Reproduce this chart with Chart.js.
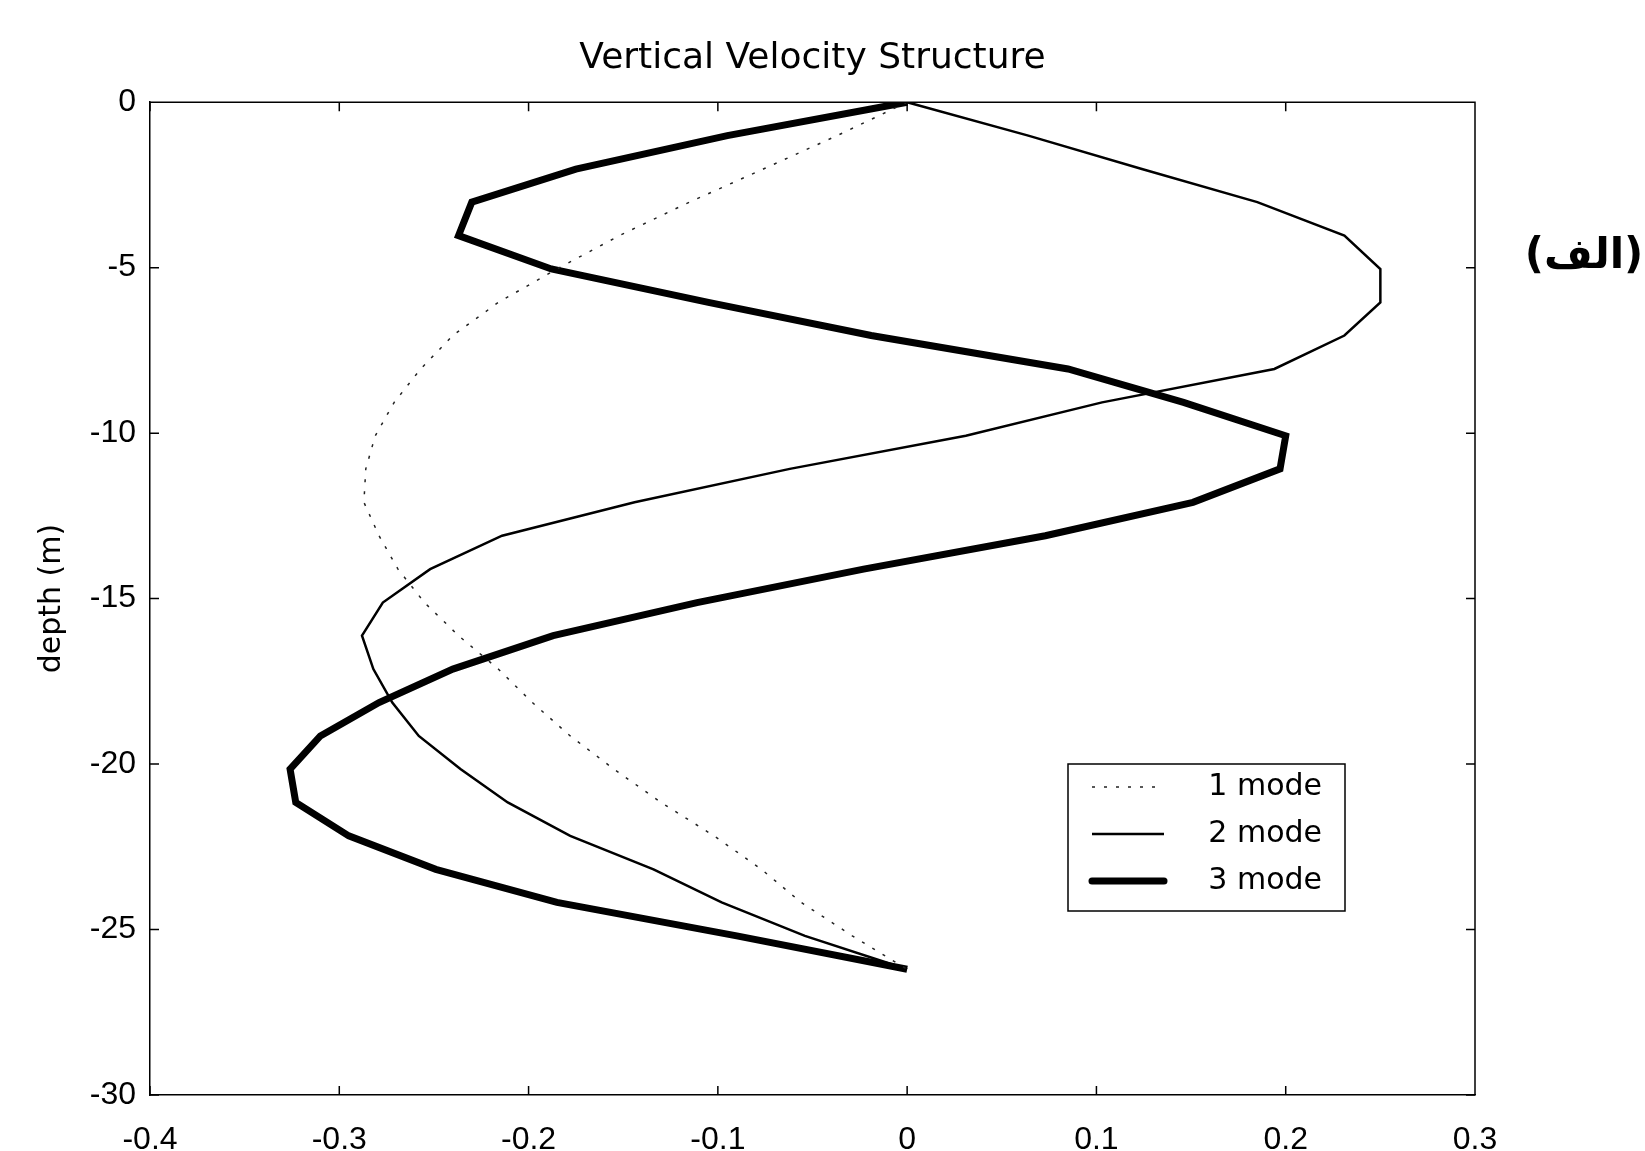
<!DOCTYPE html>
<html>
<head>
<meta charset="utf-8">
<script src="https://cdn.jsdelivr.net/npm/chart.js@4.4.1/dist/chart.umd.min.js"></script>
<style>
  html, body { margin: 0; padding: 0; background: #fff; }
</style>
</head>
<body>
<canvas id="velocityChart" width="1645" height="1151"></canvas>
<script>
// === Data ===
const depth = [0, -1.01, -2.02, -3.02, -4.03, -5.04, -6.05, -7.05, -8.06, -9.07, -10.08, -11.08, -12.09,
  -13.10, -14.11, -15.12, -16.12, -17.13, -18.14, -19.15, -20.15, -21.16, -22.17, -23.18, -24.18, -25.19, -26.2];
const mode1 = [0, -0.037, -0.076, -0.115, -0.152, -0.185, -0.216, -0.240, -0.257, -0.271, -0.281, -0.286, -0.287,
  -0.279, -0.269, -0.255, -0.237, -0.216, -0.198, -0.178, -0.155, -0.130, -0.102, -0.077, -0.056, -0.029, 0];
const mode2 = [0, 0.064, 0.124, 0.185, 0.231, 0.250, 0.250, 0.231, 0.194, 0.103, 0.031, -0.062, -0.144,
  -0.214, -0.252, -0.277, -0.288, -0.282, -0.272, -0.258, -0.236, -0.211, -0.178, -0.134, -0.098, -0.054, 0];
const mode3 = [0, -0.095, -0.175, -0.230, -0.237, -0.188, -0.105, -0.019, 0.085, 0.146, 0.200, 0.197, 0.151,
  0.073, -0.023, -0.111, -0.187, -0.240, -0.279, -0.310, -0.326, -0.323, -0.295, -0.249, -0.185, -0.090, 0];
const modeLabels = ['1 mode', '2 mode', '3 mode'];
const xTicks = [-0.4, -0.3, -0.2, -0.1, 0, 0.1, 0.2, 0.3];
const yTicks = [0, -5, -10, -15, -20, -25, -30];
const chartTitle = 'Vertical Velocity Structure';
const yTitle = 'depth (m)';
const panelTag = '(الف)';

const toPoints = vals => vals.map((v, i) => ({ x: v, y: depth[i] }));
const tickFont = { family: 'Liberation Sans', size: 32 };

// === Frame with inward ticks (matlab style) ===
const framePlugin = {
  id: 'frame',
  afterDraw(chart) {
    const { ctx, chartArea: a, scales } = chart;
    const len = 9;
    ctx.save();
    ctx.strokeStyle = '#000';
    ctx.lineWidth = 1.5;
    ctx.beginPath();
    ctx.moveTo(a.left, a.top); ctx.lineTo(a.right, a.top); ctx.lineTo(a.right, a.bottom);
    scales.x.ticks.forEach(t => {
      const px = scales.x.getPixelForValue(t.value);
      ctx.moveTo(px, a.bottom); ctx.lineTo(px, a.bottom - len);
      ctx.moveTo(px, a.top); ctx.lineTo(px, a.top + len);
    });
    scales.y.ticks.forEach(t => {
      const py = scales.y.getPixelForValue(t.value);
      ctx.moveTo(a.left, py); ctx.lineTo(a.left + len, py);
      ctx.moveTo(a.right, py); ctx.lineTo(a.right - len, py);
    });
    ctx.stroke();

    // panel tag on the right
    ctx.fillStyle = '#000';
    ctx.font = 'bold 42px "DejaVu Sans"';
    ctx.textAlign = 'center';
    ctx.textBaseline = 'middle';
    ctx.fillText(panelTag, 1584, 257);
    ctx.restore();
  }
};

// === Legend box inside the plot ===
const legendPlugin = {
  id: 'boxLegend',
  afterDraw(chart) {
    const { ctx } = chart;
    const box = { x: 1068, y: 764, w: 277, h: 147 };
    ctx.save();
    ctx.fillStyle = '#fff';
    ctx.fillRect(box.x, box.y, box.w, box.h);
    ctx.strokeStyle = '#000';
    ctx.lineWidth = 1.5;
    ctx.strokeRect(box.x, box.y, box.w, box.h);
    chart.data.datasets.forEach((ds, i) => {
      const y = box.y + 23 + i * 47;
      ctx.beginPath();
      ctx.strokeStyle = ds.borderColor;
      ctx.lineWidth = ds.borderWidth;
      ctx.setLineDash(ds.borderDash || []);
      ctx.lineCap = ds.borderWidth > 4 ? 'round' : 'butt';
      ctx.moveTo(box.x + 24, y);
      ctx.lineTo(box.x + 96, y);
      ctx.stroke();
      ctx.setLineDash([]);
      ctx.fillStyle = '#000';
      ctx.font = '30px "DejaVu Sans"';
      ctx.textAlign = 'right';
      ctx.textBaseline = 'middle';
      ctx.fillText(ds.label, box.x + 254, y);
    });
    ctx.restore();
  }
};

new Chart(document.getElementById('velocityChart'), {
  type: 'scatter',
  data: {
    datasets: [
      {
        label: modeLabels[0],
        data: toPoints(mode1),
        showLine: true,
        borderColor: '#222',
        borderWidth: 1.5,
        borderDash: [3, 9],
        pointRadius: 0
      },
      {
        label: modeLabels[1],
        data: toPoints(mode2),
        showLine: true,
        borderColor: '#000',
        borderWidth: 2.5,
        pointRadius: 0
      },
      {
        label: modeLabels[2],
        data: toPoints(mode3),
        showLine: true,
        borderColor: '#000',
        borderWidth: 7,
        pointRadius: 0
      }
    ]
  },
  options: {
    responsive: false,
    animation: false,
    devicePixelRatio: 1,
    layout: { padding: { left: 0, right: 170, top: 0, bottom: 0 } },
    plugins: {
      legend: { display: false },
      tooltip: { enabled: false },
      title: {
        display: true,
        text: chartTitle,
        fullSize: false,
        color: '#000',
        font: { family: 'DejaVu Sans', size: 36, weight: 'normal' },
        padding: { top: 37, bottom: 22 }
      }
    },
    scales: {
      x: {
        type: 'linear',
        min: xTicks[0],
        max: xTicks[xTicks.length - 1],
        afterBuildTicks: s => { s.ticks = xTicks.map(v => ({ value: v })); },
        afterFit: s => { s.height = 56; },
        grid: { display: false },
        border: { display: true, color: '#000', width: 1.5 },
        ticks: { color: '#000', font: tickFont, padding: 18, maxRotation: 0 }
      },
      y: {
        type: 'linear',
        min: yTicks[yTicks.length - 1],
        max: yTicks[0],
        afterBuildTicks: s => { s.ticks = yTicks.map(v => ({ value: v })); },
        afterFit: s => { s.width = 150; },
        grid: { display: false },
        border: { display: true, color: '#000', width: 1.5 },
        ticks: { color: '#000', font: tickFont, padding: 6 },
        title: {
          display: true,
          text: yTitle,
          color: '#000',
          font: { family: 'DejaVu Sans', size: 30 },
          padding: { top: 34, bottom: 0 }
        }
      }
    }
  },
  plugins: [framePlugin, legendPlugin]
});
</script>
</body>
</html>
